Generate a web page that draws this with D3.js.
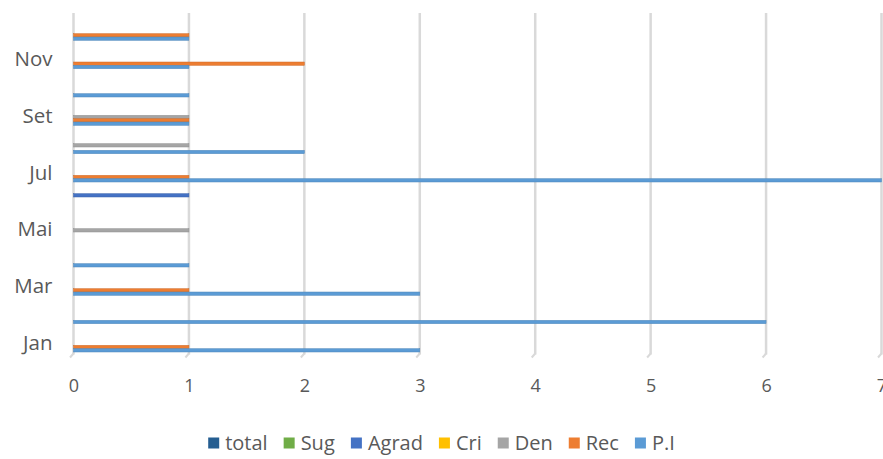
<!DOCTYPE html>
<html>
<head>
<meta charset="utf-8">
<script src="https://cdn.jsdelivr.net/npm/d3@7"></script>
<style>
  body { margin: 0; background: #fff; }
  text { font-family: "Open Sans", sans-serif; fill: #595959; }
</style>
</head>
<body>
<div id="chart"></div>
<script>
// months, bottom (Jan) to top (Dez)
var months = ["Jan", "Fev", "Mar", "Abr", "Mai", "Jun", "Jul", "Ago", "Set", "Out", "Nov", "Dez"];

// series values per month
var total = [0, 0, 0, 0, 0, 0, 0, 0, 0, 0, 0, 0];
var sug   = [0, 0, 0, 0, 0, 0, 0, 0, 0, 0, 0, 0];
var agrad = [0, 0, 0, 0, 0, 1, 0, 0, 0, 0, 0, 0];
var cri   = [0, 0, 0, 0, 0, 0, 0, 0, 0, 0, 0, 0];
var den   = [0, 0, 0, 0, 1, 0, 0, 1, 1, 0, 0, 0];
var rec   = [1, 0, 1, 0, 0, 0, 1, 0, 1, 0, 2, 1];
var pi    = [3, 6, 3, 1, 0, 0, 7, 2, 1, 1, 1, 1];

var seriesNames = ["total", "Sug", "Agrad", "Cri", "Den", "Rec", "P.I"];
var seriesValues = [total, sug, agrad, cri, den, rec, pi];
var seriesColors = ["#255E91", "#70AD47", "#4472C4", "#FFC000", "#A5A5A5", "#ED7D31", "#5B9BD5"];
var xTicks = [0, 1, 2, 3, 4, 5, 6, 7];

var width = 883, height = 459;
var plot = { left: 73.5, right: 881.5, top: 14.5, bottom: 354.5 };

var svg = d3.select("#chart").append("svg")
    .attr("width", width)
    .attr("height", height);

var x = d3.scaleLinear()
    .domain([0, 7])
    .range([plot.left, plot.right]);

var y0 = d3.scaleBand()
    .domain(months)
    .range([plot.bottom, plot.top]);

// total on top of each cluster, P.I at the bottom
var y1 = d3.scaleBand()
    .domain(seriesNames)
    .range([0, y0.bandwidth()])
    .paddingOuter(0.75);

// gridlines
svg.append("g").selectAll("line")
    .data(xTicks)
    .enter().append("line")
    .attr("x1", function(d) { return x(d); })
    .attr("x2", function(d) { return x(d); })
    .attr("y1", plot.top - 1.5)
    .attr("y2", plot.bottom)
    .style("stroke", "#d9d9d9")
    .style("stroke-width", 2.5);

// small slanted marks under gridlines
svg.append("g").selectAll("line")
    .data(xTicks)
    .enter().append("line")
    .attr("x1", function(d) { return x(d); })
    .attr("x2", function(d) { return x(d) - 3.5; })
    .attr("y1", plot.bottom - 1)
    .attr("y2", plot.bottom + 3)
    .style("stroke", "#d9d9d9")
    .style("stroke-width", 2);

// bars
var rows = [];
seriesNames.forEach(function(s, i) {
    months.forEach(function(m, j) {
        if (seriesValues[i][j] > 0) {
            rows.push({ series: s, month: m, value: seriesValues[i][j], color: seriesColors[i] });
        }
    });
});

svg.append("g").selectAll("rect")
    .data(rows)
    .enter().append("rect")
    .attr("x", x(0))
    .attr("y", function(d) { return y0(d.month) + y1(d.series); })
    .attr("width", function(d) { return x(d.value) - x(0); })
    .attr("height", y1.bandwidth())
    .style("fill", function(d) { return d.color; })
    .style("stroke", function(d) { return d3.color(d.color).darker(0.4); })
    .style("stroke-width", 0.5);

// x axis labels
var xAxis = svg.append("g")
    .attr("transform", "translate(0," + plot.bottom + ")")
    .call(d3.axisBottom(x).tickValues(xTicks).tickSize(0).tickPadding(25).tickFormat(d3.format("d")));
xAxis.select(".domain").remove();
xAxis.selectAll("text").style("font-size", "18px");

// y axis labels, every other month
var yAxis = svg.append("g")
    .attr("transform", "translate(" + plot.left + ",0)")
    .call(d3.axisLeft(y0).tickValues(months.filter(function(d, i) { return i % 2 === 0; }))
        .tickSize(0).tickPadding(21));
yAxis.select(".domain").remove();
yAxis.selectAll("text").style("font-size", "20.5px").attr("dy", "0.45em");

// legend
var legend = svg.append("g").attr("transform", "translate(0,443)");
var items = legend.selectAll("g")
    .data(seriesNames)
    .enter().append("g");

items.append("rect")
    .attr("width", 11)
    .attr("height", 11)
    .attr("y", -5.5)
    .style("fill", function(d, i) { return seriesColors[i]; });

items.append("text")
    .attr("x", 17)
    .attr("dy", "0.35em")
    .style("font-size", "20px")
    .text(function(d) { return d; });

var offsets = [], cur = 0;
items.each(function() {
    offsets.push(cur);
    cur += this.getBBox().width + 16;
});
cur -= 16;
var start = (width - cur) / 2;
items.attr("transform", function(d, i) { return "translate(" + (start + offsets[i]) + ",0)"; });
</script>
</body>
</html>
